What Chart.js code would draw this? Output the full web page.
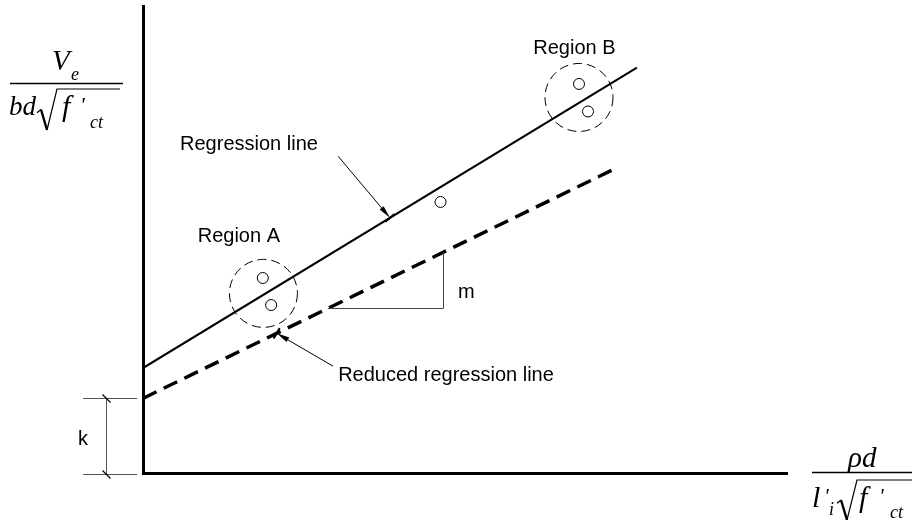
<!DOCTYPE html>
<html>
<head>
<meta charset="utf-8">
<script src="https://cdn.jsdelivr.net/npm/chart.js@4.4.1/dist/chart.umd.min.js"></script>
<style>
  html, body { margin: 0; padding: 0; background: #fff; }
  #wrap { width: 912px; height: 520px; position: relative; }
</style>
</head>
<body>
<div id="wrap"><canvas id="c" width="912" height="520"></canvas></div>
<script>
// Regression line through the test results (end points)
const regressionX = [0, 76.7];
const regressionY = [22.5, 86.9];
// Reduced regression line, intercept k on the vertical axis
const reducedX = [0, 72.8];
const reducedY = [16.0, 64.9];
// Test results
const pointX = [18.6, 19.9, 46.2, 67.7, 69.1];
const pointY = [41.8, 36.0, 58.1, 83.4, 77.5];
// Grouped results
const regionNames = ['Region A', 'Region B'];
const regionCenterX = [18.7, 67.7];
const regionCenterY = [38.5, 80.5];

const toXY = (xs, ys) => xs.map((v, i) => ({ x: v, y: ys[i] }));

const SANS = '20px "Liberation Sans", Arial, sans-serif';
const SERIF = (size) => `italic ${size}px "Liberation Serif", "Times New Roman", serif`;

function arrow(ctx, x0, y0, x1, y1) {
  const a = Math.atan2(y1 - y0, x1 - x0);
  const len = 13, half = 2.6;
  ctx.lineWidth = 1;
  ctx.beginPath();
  ctx.moveTo(x0, y0);
  ctx.lineTo(x1 - len * Math.cos(a), y1 - len * Math.sin(a));
  ctx.stroke();
  ctx.beginPath();
  ctx.moveTo(x1, y1);
  ctx.lineTo(x1 - len * Math.cos(a) - half * Math.sin(a), y1 - len * Math.sin(a) + half * Math.cos(a));
  ctx.lineTo(x1 - len * Math.cos(a) + half * Math.sin(a), y1 - len * Math.sin(a) - half * Math.cos(a));
  ctx.closePath();
  ctx.fill();
  // short bar where the pointer meets the line
  const b = 6;
  ctx.lineWidth = 2;
  ctx.beginPath();
  ctx.moveTo(x1 - b * Math.sin(a), y1 + b * Math.cos(a));
  ctx.lineTo(x1 + b * Math.sin(a), y1 - b * Math.cos(a));
  ctx.stroke();
}

function radical(ctx, x0, yTop, yBot, xEnd) {
  const h = yBot - yTop;
  ctx.lineWidth = 1.3;
  ctx.beginPath();
  ctx.moveTo(x0, yTop + 0.58 * h);
  ctx.lineTo(x0 + 4, yTop + 0.5 * h);
  ctx.stroke();
  ctx.lineWidth = 2.4;
  ctx.beginPath();
  ctx.moveTo(x0 + 4, yTop + 0.5 * h);
  ctx.lineTo(x0 + 10, yBot);
  ctx.stroke();
  ctx.lineWidth = 1.2;
  ctx.beginPath();
  ctx.moveTo(x0 + 10, yBot);
  ctx.lineTo(x0 + 20, yTop);
  ctx.lineTo(xEnd, yTop);
  ctx.stroke();
}

const notes = {
  id: 'notes',
  afterDatasetsDraw(chart) {
    const { ctx, scales: { x, y } } = chart;
    const X = v => x.getPixelForValue(v);
    const Y = v => y.getPixelForValue(v);
    ctx.save();
    ctx.strokeStyle = '#000';
    ctx.fillStyle = '#000';

    // dashed outlines round the grouped results
    ctx.setLineDash([9, 5]);
    ctx.lineWidth = 1;
    regionCenterX.forEach((cx, i) => {
      ctx.beginPath();
      ctx.arc(X(cx), Y(regionCenterY[i]), 34, 0, Math.PI * 2);
      ctx.stroke();
    });
    ctx.setLineDash([]);

    // labels
    ctx.font = SANS;
    ctx.textBaseline = 'alphabetic';
    ctx.textAlign = 'left';
    ctx.fillText(regionNames[0], X(8.5), Y(49.5));
    ctx.fillText(regionNames[1], X(60.6), Y(89.9));
    ctx.fillText('Regression line', X(5.75), Y(69.2));
    ctx.fillText('Reduced regression line', X(30.3), Y(19.7));

    // pointers to the two lines
    const regSlope = (regressionY[1] - regressionY[0]) / (regressionX[1] - regressionX[0]);
    const redSlope = (reducedY[1] - reducedY[0]) / (reducedX[1] - reducedX[0]);
    const regAt = v => regressionY[0] + regSlope * (v - regressionX[0]);
    const redAt = v => reducedY[0] + redSlope * (v - reducedX[0]);
    arrow(ctx, X(30.3), Y(67.9), X(38.35), Y(regAt(38.35)));
    arrow(ctx, X(29.5), Y(22.9), X(20.76), Y(redAt(20.76)));

    // slope triangle on the reduced line
    const t0 = 28.7, t1 = 46.6;
    ctx.strokeStyle = '#444';
    ctx.lineWidth = 1;
    ctx.beginPath();
    ctx.moveTo(X(t0), Math.round(Y(redAt(t0))) + 0.5);
    ctx.lineTo(Math.round(X(t1)) + 0.5, Math.round(Y(redAt(t0))) + 0.5);
    ctx.lineTo(Math.round(X(t1)) + 0.5, Y(redAt(t1)));
    ctx.stroke();
    ctx.fillStyle = '#000';
    ctx.fillText('m', X(48.9), Y(37.5));

    // intercept k
    const kTop = Math.round(Y(reducedY[0])) + 0.5;
    const kBot = Math.round(Y(0)) + 1.5;
    const kx = Math.round(X(-5.75)) + 0.5;
    ctx.strokeStyle = '#555';
    ctx.lineWidth = 1;
    ctx.beginPath();
    ctx.moveTo(X(-9.3), kTop); ctx.lineTo(X(-0.9), kTop);
    ctx.moveTo(X(-9.3), kBot); ctx.lineTo(X(-0.9), kBot);
    ctx.moveTo(kx, kTop); ctx.lineTo(kx, kBot);
    ctx.stroke();
    ctx.strokeStyle = '#000';
    ctx.lineWidth = 1.2;
    ctx.beginPath();
    ctx.moveTo(kx - 4, kTop - 4); ctx.lineTo(kx + 4, kTop + 4);
    ctx.moveTo(kx - 4, kBot - 4); ctx.lineTo(kx + 4, kBot + 4);
    ctx.stroke();
    ctx.fillText('k', X(-10.1), Y(6.0));

    // vertical axis title: Ve / (bd sqrt(f'ct))
    ctx.font = SERIF(29);
    ctx.fillText('V', 52, 70);
    ctx.font = SERIF(18);
    ctx.fillText('e', 71, 80);
    ctx.lineWidth = 1.4;
    ctx.beginPath(); ctx.moveTo(10, 83.5); ctx.lineTo(123, 83.5); ctx.stroke();
    ctx.font = SERIF(27);
    ctx.fillText('bd', 9, 115);
    radical(ctx, 37, 89, 130, 120);
    ctx.font = SERIF(30);
    ctx.fillText('f', 62, 116);
    ctx.font = SERIF(22);
    ctx.fillText("'", 80, 112);
    ctx.font = SERIF(18);
    ctx.fillText('ct', 90, 128);

    // horizontal axis title: rho d / (l'i sqrt(f'ct))
    ctx.font = SERIF(29);
    ctx.fillText('\u03C1d', 848, 467);
    ctx.lineWidth = 1.4;
    ctx.beginPath(); ctx.moveTo(812, 472.5); ctx.lineTo(912, 472.5); ctx.stroke();
    ctx.font = SERIF(30);
    ctx.fillText('l', 812, 507);
    ctx.font = SERIF(22);
    ctx.fillText("'", 824, 503);
    ctx.font = SERIF(18);
    ctx.fillText('i', 829, 515);
    radical(ctx, 837, 480, 520, 912);
    ctx.font = SERIF(30);
    ctx.fillText('f', 859, 507);
    ctx.font = SERIF(22);
    ctx.fillText("'", 879, 503);
    ctx.font = SERIF(18);
    ctx.fillText('ct', 890, 518);

    ctx.restore();
  }
};

const hiddenAxis = {
  type: 'linear',
  min: 0,
  max: 100,
  ticks: { display: false },
  grid: { display: false, drawTicks: false },
  border: { display: true, color: '#000', width: 3 }
};

new Chart(document.getElementById('c'), {
  type: 'scatter',
  data: {
    datasets: [
      {
        label: 'Regression line',
        data: toXY(regressionX, regressionY),
        showLine: true,
        borderColor: '#000',
        borderWidth: 2,
        pointRadius: 0
      },
      {
        label: 'Reduced regression line',
        data: toXY(reducedX, reducedY),
        showLine: true,
        borderColor: '#000',
        borderWidth: 3.5,
        borderDash: [15, 8],
        pointRadius: 0
      },
      {
        label: 'Test results',
        data: toXY(pointX, pointY),
        showLine: false,
        pointRadius: 5.5,
        pointBorderWidth: 1,
        pointBorderColor: '#000',
        pointBackgroundColor: '#fff'
      }
    ]
  },
  options: {
    responsive: false,
    animation: false,
    layout: { padding: { left: 143, right: 125, top: 6, bottom: 47 } },
    plugins: { legend: { display: false }, tooltip: { enabled: false } },
    scales: { x: { ...hiddenAxis }, y: { ...hiddenAxis } }
  },
  plugins: [notes]
});
</script>
</body>
</html>
